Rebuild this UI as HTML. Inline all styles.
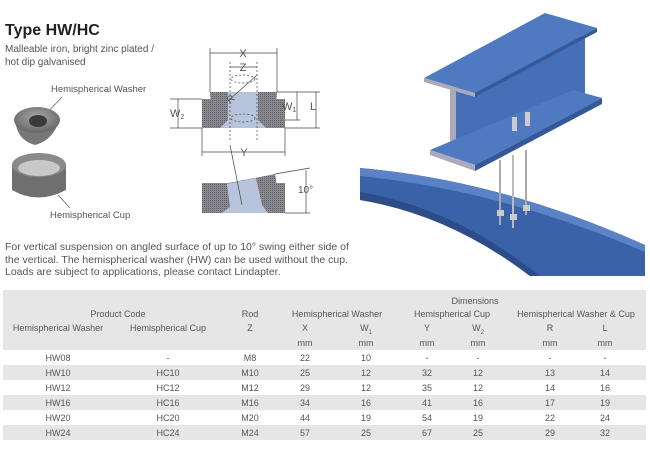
<!DOCTYPE html>
<html><head><meta charset="utf-8"><style>
*{margin:0;padding:0}
body{width:650px;height:455px;background:#fff;position:relative;overflow:hidden;font-family:"Liberation Sans",sans-serif;color:#444}
.a{position:absolute;white-space:nowrap}
.t{position:absolute;font-size:9px;color:#555;text-align:center;transform:translateX(-50%);white-space:nowrap}
</style></head><body>
<div class="a" style="left:5px;top:22px;font-size:16px;font-weight:bold;color:#222">Type HW/HC</div>
<div class="a" style="left:5px;top:43px;font-size:10px;line-height:13px;color:#555">Malleable iron, bright zinc plated /<br>hot dip galvanised</div>
<div class="a" style="left:51px;top:84px;font-size:9.5px;color:#555">Hemispherical Washer</div>
<div class="a" style="left:50px;top:210px;font-size:9.5px;color:#555">Hemispherical Cup</div>
<svg class="a" style="left:0;top:0" width="180" height="230">
<defs><radialGradient id="g1" cx=".5" cy=".4" r=".6"><stop offset="0" stop-color="#aaa"/><stop offset="1" stop-color="#666"/></radialGradient></defs>
<line x1="62" y1="97" x2="45" y2="115" stroke="#666" stroke-width="0.8"/>
<path d="M15 118 Q16 140 35 145 Q54 140 60 118 Z" fill="#777"/>
<ellipse cx="37" cy="120" rx="23" ry="13" fill="url(#g1)"/>
<ellipse cx="38" cy="121" rx="9" ry="6" fill="#3a3a3a"/>
<path d="M12 165 L12 190 Q38 205 66 190 L66 165 Z" fill="#6f6f6f"/>
<ellipse cx="39" cy="165" rx="27" ry="12" fill="#8a8a8a"/>
<ellipse cx="39" cy="168" rx="21" ry="8" fill="#c8c8c8"/>
<line x1="58" y1="195" x2="70" y2="208" stroke="#666" stroke-width="0.8"/>
</svg>
<svg class="a" style="left:170px;top:0" width="185" height="240" font-family="Liberation Sans" font-size="11" fill="#555">
<defs><pattern id="h" width="2" height="2" patternUnits="userSpaceOnUse"><rect width="2" height="2" fill="#8a8a90"/><rect width="1" height="1" fill="#5d5d66"/></pattern></defs>
<g stroke="#444" stroke-width="0.7" fill="none">
<line x1="40" y1="53" x2="107" y2="53"/><line x1="40" y1="48" x2="40" y2="92"/><line x1="107" y1="48" x2="107" y2="92"/>
<line x1="60" y1="67" x2="87" y2="67"/>
<line x1="32" y1="152" x2="115" y2="152"/><line x1="32" y1="128" x2="32" y2="156"/><line x1="115" y1="128" x2="115" y2="156"/>
<line x1="107" y1="92" x2="150" y2="92"/><line x1="115" y1="128" x2="150" y2="128"/><line x1="80" y1="120" x2="130" y2="120"/>
<line x1="127" y1="92" x2="127" y2="120"/><line x1="146" y1="92" x2="146" y2="128"/>
<line x1="0" y1="99" x2="32" y2="99"/><line x1="0" y1="128" x2="32" y2="128"/><line x1="8" y1="99" x2="8" y2="128"/>
</g>
<rect x="32" y="99" width="83" height="29" fill="url(#h)"/>
<path d="M40 92 L107 92 Q107 120 73 122 Q40 120 40 92Z" fill="url(#h)"/>
<path d="M58 92 L88 92 L88 120 L96 128 L50 128 L58 120Z" fill="#b8c4dc"/>
<g stroke="#444" stroke-width="0.7" fill="none" stroke-dasharray="2,2"><line x1="60" y1="62" x2="60" y2="140"/><line x1="87" y1="62" x2="87" y2="140"/><ellipse cx="73" cy="79" rx="12" ry="4"/><ellipse cx="73" cy="118" rx="12" ry="4"/></g>
<line x1="58" y1="101" x2="87" y2="75" stroke="#444" stroke-width="0.7"/>
<text x="73" y="57" text-anchor="middle">X</text>
<text x="73" y="71" text-anchor="middle">Z</text>
<text x="74" y="156" text-anchor="middle">Y</text>
<text x="60" y="104" font-size="10" transform="rotate(-40 60 104)">R</text>
<text x="112" y="110">W<tspan font-size="7" dy="2">1</tspan></text>
<text x="140" y="110">L</text>
<text x="0" y="117">W<tspan font-size="7" dy="2">2</tspan></text>
<rect x="32" y="183" width="83" height="30" fill="url(#h)"/>
<path d="M38 187 L105 174 Q112 200 80 207 Q46 210 38 187Z" fill="url(#h)"/>
<path d="M57 184 L86 178 L92 205 L98 213 L52 213 L60 207Z" fill="#b8c4dc"/>
<line x1="60" y1="145" x2="72" y2="205" stroke="#444" stroke-width="0.7"/>
<line x1="105" y1="174" x2="140" y2="168" stroke="#444" stroke-width="0.7"/><line x1="115" y1="213" x2="140" y2="213" stroke="#444" stroke-width="0.7"/>
<line x1="136" y1="170" x2="136" y2="213" stroke="#444" stroke-width="0.7"/>
<text x="128" y="193" font-size="10">10°</text>
</svg>
<svg class="a" style="left:360px;top:0" width="290" height="290">
<path d="M0 168 Q140 180 285 245 L285 276 L170 276 Q90 215 0 200Z" fill="#3a62a8"/>
<path d="M0 168 Q140 180 285 245 L285 252 Q140 190 0 176Z" fill="#5b82c4"/>
<path d="M0 200 Q90 215 170 276 L180 276 Q95 208 0 192Z" fill="#2c4d88"/>
<line x1="140" y1="160" x2="140" y2="225" stroke="#aaa" stroke-width="2"/>
<line x1="153" y1="155" x2="153" y2="228" stroke="#bbb" stroke-width="2"/>
<line x1="166" y1="150" x2="166" y2="215" stroke="#aaa" stroke-width="2"/>
<rect x="137" y="210" width="7" height="6" fill="#ccc"/><rect x="150" y="214" width="7" height="6" fill="#ccc"/><rect x="163" y="205" width="7" height="6" fill="#ccc"/>
<path d="M90 90 L225 35 L225 98 L90 157Z" fill="#4570b8"/>
<path d="M90 90 L96 88 L96 156 L90 157Z" fill="#aab"/>
<path d="M64 78 L185 13 L237 28 L115 93Z" fill="#4f79c0"/>
<path d="M64 78 L115 93 L115 97 L64 82Z" fill="#aab"/>
<path d="M115 93 L237 28 L237 32 L115 97Z" fill="#35589a"/>
<path d="M70 150 L213 90 L242 98 L115 165Z" fill="#4f79c0"/>
<path d="M70 150 L115 165 L115 171 L70 155Z" fill="#aab"/>
<path d="M115 165 L242 98 L242 104 L115 171Z" fill="#35589a"/>
<rect x="152" y="117" width="5" height="14" fill="#ccc"/><rect x="165" y="112" width="5" height="14" fill="#ccc"/>
</svg>
<div class="a" style="left:5px;top:241px;font-size:10.5px;line-height:12.5px;color:#555">For vertical suspension on angled surface of up to 10° swing either side of<br>the vertical. The hemispherical washer (HW) can be used without the cup.<br>Loads are subject to applications, please contact Lindapter.</div>
<div class="a" style="left:3px;top:290px;width:643px;height:60px;background:#e6e6e6"></div>
<div class="a" style="left:3px;top:365px;width:643px;height:15px;background:#e6e6e6"></div>
<div class="a" style="left:3px;top:395px;width:643px;height:15px;background:#e6e6e6"></div>
<div class="a" style="left:3px;top:425px;width:643px;height:15px;background:#e6e6e6"></div>
<div class="t" style="left:475px;top:296px">Dimensions</div>
<div class="t" style="left:118px;top:309px">Product Code</div>
<div class="t" style="left:250px;top:309px">Rod</div>
<div class="t" style="left:337px;top:309px">Hemispherical Washer</div>
<div class="t" style="left:452px;top:309px">Hemispherical Cup</div>
<div class="t" style="left:576px;top:309px">Hemispherical Washer &amp; Cup</div>
<div class="t" style="left:58px;top:323px">Hemispherical Washer</div>
<div class="t" style="left:168px;top:323px">Hemispherical Cup</div>
<div class="t" style="left:250px;top:323px">Z</div>
<div class="t" style="left:305px;top:323px">X</div>
<div class="t" style="left:366px;top:323px">W<sub style="font-size:6px">1</sub></div>
<div class="t" style="left:427px;top:323px">Y</div>
<div class="t" style="left:478px;top:323px">W<sub style="font-size:6px">2</sub></div>
<div class="t" style="left:550px;top:323px">R</div>
<div class="t" style="left:605px;top:323px">L</div>
<div class="t" style="left:305px;top:338px">mm</div><div class="t" style="left:366px;top:338px">mm</div><div class="t" style="left:427px;top:338px">mm</div><div class="t" style="left:478px;top:338px">mm</div><div class="t" style="left:550px;top:338px">mm</div><div class="t" style="left:605px;top:338px">mm</div>
<div class="t" style="left:58px;top:353px">HW08</div><div class="t" style="left:168px;top:353px">-</div><div class="t" style="left:250px;top:353px">M8</div><div class="t" style="left:305px;top:353px">22</div><div class="t" style="left:366px;top:353px">10</div><div class="t" style="left:427px;top:353px">-</div><div class="t" style="left:478px;top:353px">-</div><div class="t" style="left:550px;top:353px">-</div><div class="t" style="left:605px;top:353px">-</div>
<div class="t" style="left:58px;top:368px">HW10</div><div class="t" style="left:168px;top:368px">HC10</div><div class="t" style="left:250px;top:368px">M10</div><div class="t" style="left:305px;top:368px">25</div><div class="t" style="left:366px;top:368px">12</div><div class="t" style="left:427px;top:368px">32</div><div class="t" style="left:478px;top:368px">12</div><div class="t" style="left:550px;top:368px">13</div><div class="t" style="left:605px;top:368px">14</div>
<div class="t" style="left:58px;top:383px">HW12</div><div class="t" style="left:168px;top:383px">HC12</div><div class="t" style="left:250px;top:383px">M12</div><div class="t" style="left:305px;top:383px">29</div><div class="t" style="left:366px;top:383px">12</div><div class="t" style="left:427px;top:383px">35</div><div class="t" style="left:478px;top:383px">12</div><div class="t" style="left:550px;top:383px">14</div><div class="t" style="left:605px;top:383px">16</div>
<div class="t" style="left:58px;top:398px">HW16</div><div class="t" style="left:168px;top:398px">HC16</div><div class="t" style="left:250px;top:398px">M16</div><div class="t" style="left:305px;top:398px">34</div><div class="t" style="left:366px;top:398px">16</div><div class="t" style="left:427px;top:398px">41</div><div class="t" style="left:478px;top:398px">16</div><div class="t" style="left:550px;top:398px">17</div><div class="t" style="left:605px;top:398px">19</div>
<div class="t" style="left:58px;top:413px">HW20</div><div class="t" style="left:168px;top:413px">HC20</div><div class="t" style="left:250px;top:413px">M20</div><div class="t" style="left:305px;top:413px">44</div><div class="t" style="left:366px;top:413px">19</div><div class="t" style="left:427px;top:413px">54</div><div class="t" style="left:478px;top:413px">19</div><div class="t" style="left:550px;top:413px">22</div><div class="t" style="left:605px;top:413px">24</div>
<div class="t" style="left:58px;top:428px">HW24</div><div class="t" style="left:168px;top:428px">HC24</div><div class="t" style="left:250px;top:428px">M24</div><div class="t" style="left:305px;top:428px">57</div><div class="t" style="left:366px;top:428px">25</div><div class="t" style="left:427px;top:428px">67</div><div class="t" style="left:478px;top:428px">25</div><div class="t" style="left:550px;top:428px">29</div><div class="t" style="left:605px;top:428px">32</div>
</body></html>
